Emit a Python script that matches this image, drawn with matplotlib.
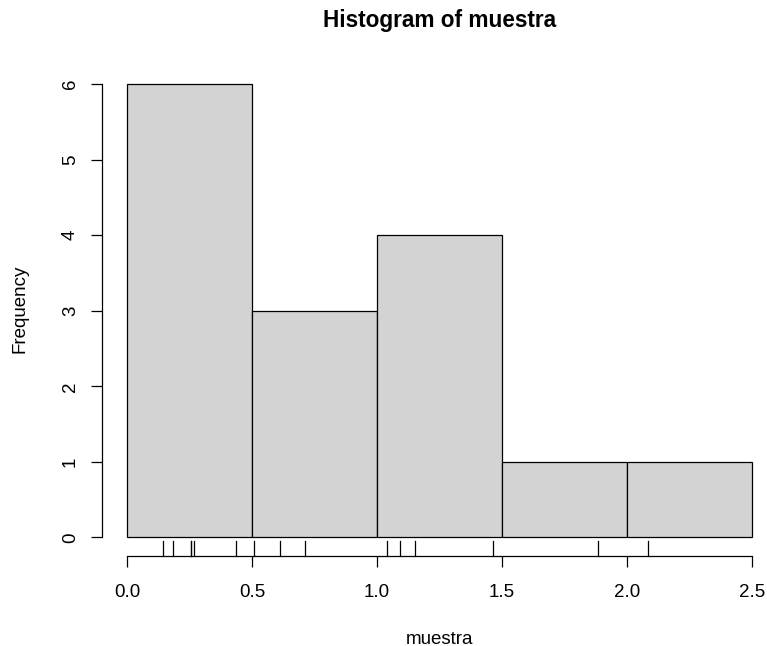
import numpy as np
import matplotlib.pyplot as plt

plt.rcParams["font.family"] = ["Liberation Sans", "DejaVu Sans"]

# sample values (one value duplicated in the first bin)
muestra = [0.142, 0.182, 0.255, 0.255, 0.267, 0.436, 0.508, 0.612, 0.711,
           1.040, 1.090, 1.150, 1.462, 1.882, 2.082]
breaks = [0.0, 0.5, 1.0, 1.5, 2.0, 2.5]
x_ticks = [0.0, 0.5, 1.0, 1.5, 2.0, 2.5]
x_tick_labels = ["0.0", "0.5", "1.0", "1.5", "2.0", "2.5"]
y_ticks = [0, 1, 2, 3, 4, 5, 6]

fig = plt.figure(figsize=(7.67, 6.46), dpi=100)
# plot region in pixels: left 102, right 777 (beyond figure), top 66, bottom 555.5
ax = fig.add_axes([102 / 767, (646 - 555.5) / 646, 675 / 767, 489.5 / 646])

ax.hist(muestra, bins=breaks, facecolor="#D3D3D3", edgecolor="black", linewidth=0.9)

# rug along the bottom of the plot region
for v in muestra:
    ax.plot([v, v], [0.0, 0.03], transform=ax.get_xaxis_transform(),
            color="black", linewidth=0.9, clip_on=False)

ax.set_xlim(-0.1, 2.6)
ax.set_ylim(-0.24, 6.24)

for side in ["top", "right"]:
    ax.spines[side].set_visible(False)
ax.spines["bottom"].set_bounds(0.0, 2.5)
ax.spines["left"].set_bounds(0, 6)
ax.spines["bottom"].set_linewidth(0.9)
ax.spines["left"].set_linewidth(0.9)

ax.set_xticks(x_ticks)
ax.set_xticklabels(x_tick_labels)
ax.set_yticks(y_ticks)
ax.set_yticklabels([str(t) for t in y_ticks], rotation=90, va="center")
ax.tick_params(axis="both", length=8.1, width=0.9, labelsize=13.5)
ax.tick_params(axis="x", pad=12.3)
ax.tick_params(axis="y", pad=8.5)

fig.text(439.7 / 767, 1 - 26.7 / 646, "Histogram of muestra", ha="center", va="baseline",
         fontsize=16.3, fontweight="bold")
fig.text(439.5 / 767, 1 - 644.5 / 646, "muestra", ha="center", va="baseline", fontsize=13.5)
fig.text(20.5 / 767, 1 - 309 / 646, "Frequency", ha="center", va="center",
         rotation=90, fontsize=13.5)

fig.savefig("out.png", dpi=100)
